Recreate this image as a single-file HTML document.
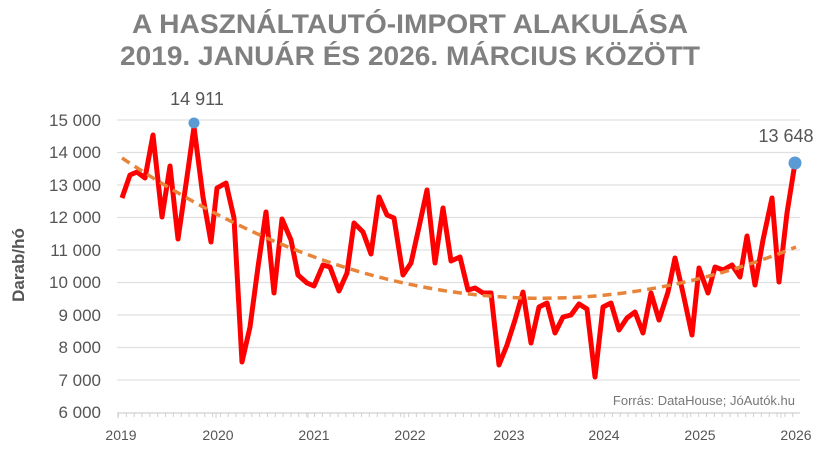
<!DOCTYPE html>
<html><head><meta charset="utf-8"><style>
body{margin:0;background:#fff;}
svg{display:block;font-family:"Liberation Sans",Arial,sans-serif;}
</style></head><body>
<svg width="825" height="450" viewBox="0 0 825 450">
<text x="410" y="33" text-anchor="middle" font-size="27" font-weight="bold" fill="#808080" textLength="556" lengthAdjust="spacingAndGlyphs">A HASZNÁLTAUTÓ-IMPORT ALAKULÁSA</text>
<text x="410" y="65" text-anchor="middle" font-size="27" font-weight="bold" fill="#808080" textLength="580" lengthAdjust="spacingAndGlyphs">2019. JANUÁR ÉS 2026. MÁRCIUS KÖZÖTT</text>
<g stroke="#e0e0e0" stroke-width="1.2">
<line x1="117" x2="800" y1="120" y2="120"/><line x1="117" x2="800" y1="152.5" y2="152.5"/>
<line x1="117" x2="800" y1="185" y2="185"/><line x1="117" x2="800" y1="217.5" y2="217.5"/>
<line x1="117" x2="800" y1="250" y2="250"/><line x1="117" x2="800" y1="282.5" y2="282.5"/>
<line x1="117" x2="800" y1="315" y2="315"/><line x1="117" x2="800" y1="347.5" y2="347.5"/>
<line x1="117" x2="800" y1="380" y2="380"/><line x1="117" x2="800" y1="413" y2="413" stroke="#d0d0d0"/>
</g>
<line x1="118" x2="800" y1="415" y2="415" stroke="#d0d0d0" stroke-width="4" stroke-dasharray="1,6.84"/>
<g stroke="#d0d0d0" stroke-width="1">
<path d="M118 413v5M216 413v5M308 413v5M404 413v5M499 413v5M593 413v5M687 413v5M781 413v5"/>
</g>
<g font-size="17" fill="#555" text-anchor="end">
<text x="101" y="126">15 000</text><text x="101" y="158">14 000</text><text x="101" y="191">13 000</text>
<text x="101" y="223">12 000</text><text x="101" y="256">11 000</text><text x="101" y="288">10 000</text>
<text x="101" y="321">9 000</text><text x="101" y="353">8 000</text><text x="101" y="386">7 000</text>
<text x="101" y="418">6 000</text>
</g>
<text transform="translate(24,265) rotate(-90)" text-anchor="middle" font-size="17" font-weight="bold" fill="#555">Darab/hó</text>
<g font-size="14" fill="#555" text-anchor="middle">
<text x="121" y="440">2019</text><text x="218" y="440">2020</text><text x="314" y="440">2021</text>
<text x="410" y="440">2022</text><text x="509" y="440">2023</text><text x="604" y="440">2024</text>
<text x="700" y="440">2025</text><text x="796" y="440">2026</text>
</g>
<text x="795" y="405" text-anchor="end" font-size="13" fill="#777">Forrás: DataHouse; JóAutók.hu</text>
<polyline fill="none" stroke="#f00" stroke-width="5" stroke-linejoin="round" points="122,198 130,175 137,172 145,178 153,135 162,217 170,166 178,239 187,177 194,127 203,197 211,242 217,188 226,183 234,218 242,362 250,327 258,267 266,212 274,293 282,219 291,240 298,275 307,283 314,286 323,265 330,267 339,291 347,273 354,223 363,232 371,254 379,197 387,215 394,218 403,275 411,263 419,227 427,190 435,263 443,208 451,261 460,257 468,290 475,288 483,293 491,293 499,365 507,345 515,320 523,292 531,343 539,307 547,303 555,333 563,317 571,315 579,304 587,309 595,377 603,307 611,303 619,330 627,318 635,312 643,333 651,293 659,320 668,292 675,258 683,293 692,335 699,268 708,293 715,267 723,270 732,265 740,277 747,236 755,285 763,240 772,198 779,282 787,213 795,163"/>
<path d="M122 158 Q459 383 796 247" fill="none" stroke="#e8843a" stroke-width="3.5" stroke-dasharray="9,6"/>
<circle cx="194" cy="123" r="5.5" fill="#5b9bd5"/>
<circle cx="795" cy="163" r="6.5" fill="#5b9bd5"/>
<text x="197" y="105" text-anchor="middle" font-size="18" fill="#555">14 911</text>
<text x="786" y="142" text-anchor="middle" font-size="18" fill="#555">13 648</text>
</svg>
</body></html>
